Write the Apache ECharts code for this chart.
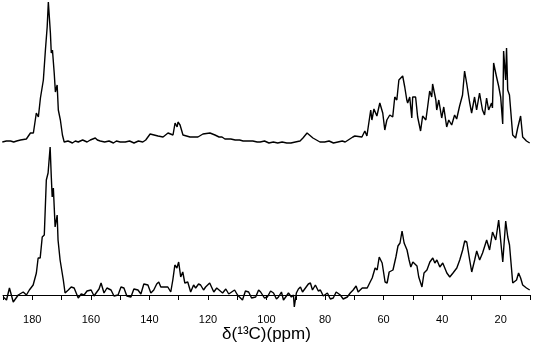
<!DOCTYPE html>
<html>
<head>
<meta charset="utf-8">
<script src="https://cdn.jsdelivr.net/npm/echarts@6/dist/echarts.min.js"></script>
<style>
  html, body { margin: 0; padding: 0; background: #fff; }
  #chart { width: 533px; height: 351px; }
</style>
</head>
<body>
<div id="chart"></div>
<script>
// chemical shift (ppm) / intensity (a.u.)
var topSpectrum = [
  [189.9, 0], [188.5, 1], [187.1, 1], [186.0, 0], [185.0, 1], [183.7, 2], [181.7, 3], [180.3, 9],
  [179.3, 9], [178.3, 29], [177.6, 25], [176.9, 44], [176.3, 42], [175.9, 62], [175.2, 92],
  [174.6, 115], [174.2, 140], [173.5, 109], [173.2, 89], [172.8, 92], [172.2, 69], [171.8, 50],
  [171.2, 57], [170.8, 32], [170.1, 22], [169.4, 7], [168.8, 0], [167.5, 1], [166.7, 0], [166.0, -1],
  [165.0, 1], [164.0, 0], [163.3, 1], [162.5, 2], [161.0, 0], [159.9, 2], [158.2, 4], [157.5, 2],
  [156.5, 1], [155.0, 0], [153.5, 1], [152.0, -1], [151.0, 1], [149.7, 0], [148.0, 0], [146.5, 1],
  [145.0, -1], [143.5, 1], [142.0, 0], [141.0, 2], [140.5, 1], [139.5, 8], [136.8, 6], [135.1, 5],
  [133.4, 9], [131.7, 7], [131.0, 19], [130.3, 15], [130.0, 20], [129.3, 17], [128.3, 7], [125.9, 5],
  [123.2, 5], [121.5, 8], [119.1, 9], [117.4, 7], [116.0, 5], [115.0, 5], [114.0, 3], [113.3, 3],
  [112.0, 3], [110.5, 2], [109.0, 2], [107.8, 1], [106.0, 1], [104.5, 1], [103.0, 0], [102.0, 0],
  [100.5, 1], [99.0, -1], [97.5, 0], [96.0, -1], [94.5, 0], [92.9, -1], [91.5, -1], [90.0, 0],
  [88.4, 1], [87.4, 4], [86.0, 9], [84.0, 4], [81.6, 0], [80.0, 0], [78.5, 1], [77.0, -1], [75.5, 0],
  [74.0, 1], [73.0, 0], [72.4, 0], [70.4, 5], [69.7, 6], [67.3, 5], [66.3, 11], [65.6, 6], [64.3, 32],
  [63.9, 22], [63.2, 33], [62.2, 26], [61.2, 39], [60.2, 29], [59.5, 12], [58.8, 22], [57.8, 27],
  [56.8, 25], [56.1, 45], [55.4, 42], [54.7, 62], [53.4, 66], [52.7, 55], [52.0, 42], [51.7, 39],
  [51.0, 45], [50.3, 24], [50.0, 45], [49.0, 45], [48.3, 25], [47.3, 11], [46.6, 26], [45.5, 22],
  [44.9, 35], [44.2, 51], [43.5, 45], [43.2, 58], [42.1, 42], [41.8, 32], [41.1, 42], [40.1, 24],
  [39.4, 35], [38.4, 15], [37.7, 22], [36.7, 17], [35.7, 27], [35.0, 23], [34.0, 36], [33.0, 47],
  [32.3, 71], [31.6, 59], [30.6, 40], [29.9, 29], [28.9, 45], [28.2, 32], [27.2, 49], [26.2, 32],
  [25.5, 27], [24.8, 44], [24.1, 32], [23.1, 39], [22.8, 34], [22.4, 79], [21.4, 65], [20.7, 56],
  [20.0, 45], [19.3, 18], [19.0, 91], [18.3, 62], [18.0, 94], [17.6, 52], [17.0, 47], [15.9, 7],
  [14.9, 4], [14.2, 14], [13.2, 26], [12.5, 5], [11.2, 1], [10.1, -1]
];

var bottomSpectrum = [
  [189.9, -2], [188.8, -5], [187.8, 7], [186.5, -7], [184.8, 0], [183.1, 3], [182.0, 0], [181.0, 5],
  [179.7, 10], [178.6, 22], [178.0, 37], [177.3, 37], [176.6, 58], [175.9, 60], [175.2, 115],
  [174.6, 122], [173.9, 148], [173.5, 118], [173.2, 98], [172.8, 107], [172.2, 68], [171.5, 80],
  [171.2, 55], [170.5, 35], [169.4, 15], [168.8, 2], [167.7, 5], [166.7, 8], [165.7, 7], [164.3, -3],
  [163.3, 1], [162.3, 0], [161.3, 4], [159.9, 5], [158.9, -1], [158.2, 2], [157.2, 6], [156.5, 12],
  [155.5, 2], [154.5, 7], [153.1, 5], [152.1, -1], [150.7, 0], [149.7, 8], [148.7, 7], [147.7, -1],
  [146.3, -2], [145.3, 6], [143.9, 5], [142.9, 1], [141.9, 11], [140.5, 10], [139.5, 2], [138.5, 5],
  [137.5, 11], [136.8, 13], [136.1, 8], [135.1, 8], [133.7, 8], [132.7, 3], [132.0, 15], [131.3, 30],
  [130.6, 27], [130.0, 33], [129.3, 18], [128.6, 23], [127.9, 12], [126.9, 13], [125.9, 3],
  [124.9, 10], [124.2, 7], [123.2, 11], [122.5, 10], [121.5, 5], [120.8, 8], [119.4, 12], [118.0, 3],
  [117.0, 7], [116.4, 5], [115.0, 2], [113.9, 6], [112.9, 1], [112.3, 2], [110.9, 5], [109.9, 0],
  [108.2, -5], [107.2, 4], [106.1, 3], [105.1, -3], [103.7, -2], [102.7, 5], [102.0, 3], [100.7, -3],
  [99.7, -2], [98.6, 4], [97.6, 2], [96.6, -4], [95.9, -2], [94.9, 3], [94.2, -5], [93.2, -1],
  [92.5, 2], [91.5, -2], [90.8, 0], [90.5, -12], [89.8, 2], [89.1, 6], [88.4, 8], [87.7, 3],
  [86.7, 7], [85.7, 11], [85.0, 12], [84.3, 5], [83.3, 10], [82.3, 4], [81.6, 5], [80.6, -1],
  [79.2, 2], [78.2, -4], [77.2, -3], [76.2, 3], [74.8, 0], [73.8, -4], [72.4, -2], [71.4, 2],
  [70.4, 5], [69.4, 9], [68.7, 3], [67.3, 7], [65.6, 7], [64.6, 13], [63.9, 17], [62.9, 27],
  [62.2, 25], [61.5, 38], [60.5, 32], [59.5, 13], [58.8, 12], [58.1, 23], [56.8, 25], [55.8, 38],
  [55.1, 49], [54.4, 52], [53.7, 64], [53.0, 52], [52.0, 45], [51.3, 35], [50.7, 28], [50.0, 33],
  [48.6, 29], [48.0, 18], [46.9, 8], [46.2, 22], [45.2, 25], [44.2, 33], [43.2, 37], [42.5, 32],
  [41.8, 35], [40.8, 28], [39.8, 32], [38.4, 22], [37.4, 18], [36.3, 22], [35.0, 27], [34.0, 35],
  [33.0, 45], [32.3, 54], [31.6, 53], [30.6, 35], [29.9, 23], [28.9, 35], [28.2, 44], [27.2, 35],
  [26.2, 42], [24.8, 55], [23.8, 45], [22.8, 63], [21.7, 55], [20.7, 75], [19.3, 33], [18.3, 74],
  [17.6, 58], [17.0, 50], [15.9, 12], [14.6, 15], [13.9, 22], [13.2, 17], [12.5, 10], [11.2, 7],
  [10.1, 5]
];

var ppmMin = 10, ppmMax = 190;
var axisTitle = 'δ(¹³C)(ppm)';

var font = "'Liberation Sans', Arial, sans-serif";
var chart = echarts.init(document.getElementById('chart'));

var lineStyle = { color: '#000', width: 1.4 };

chart.setOption({
  animation: false,
  grid: [
    { left: 2, right: 3, top: 2, height: 142 },
    { left: 2, right: 3, top: 147, height: 161 }
  ],
  xAxis: [
    { gridIndex: 0, type: 'value', inverse: true, min: ppmMin, max: ppmMax, show: false },
    {
      gridIndex: 1, type: 'value', inverse: true, min: ppmMin, max: ppmMax, interval: 10,
      axisLine: { show: true, lineStyle: { color: '#000', width: 1 } },
      axisTick: { show: true, length: 5, lineStyle: { color: '#000', width: 1 } },
      splitLine: { show: false },
      axisLabel: {
        color: '#000', fontSize: 11, fontFamily: font, margin: 6,
        formatter: function (v) { return v % 20 === 0 && v > ppmMin && v < ppmMax ? String(v) : ''; }
      },
      name: axisTitle,
      nameLocation: 'middle',
      nameGap: 16,
      nameTextStyle: { color: '#000', fontSize: 17, fontFamily: font }
    }
  ],
  yAxis: [
    { gridIndex: 0, type: 'value', min: -2, max: 140, show: false },
    { gridIndex: 1, type: 'value', min: -13, max: 148, show: false }
  ],
  series: [
    {
      type: 'line', xAxisIndex: 0, yAxisIndex: 0, data: topSpectrum,
      showSymbol: false, lineStyle: lineStyle, silent: true
    },
    {
      type: 'line', xAxisIndex: 1, yAxisIndex: 1, data: bottomSpectrum,
      showSymbol: false, lineStyle: lineStyle, silent: true
    }
  ]
});
</script>
</body>
</html>
